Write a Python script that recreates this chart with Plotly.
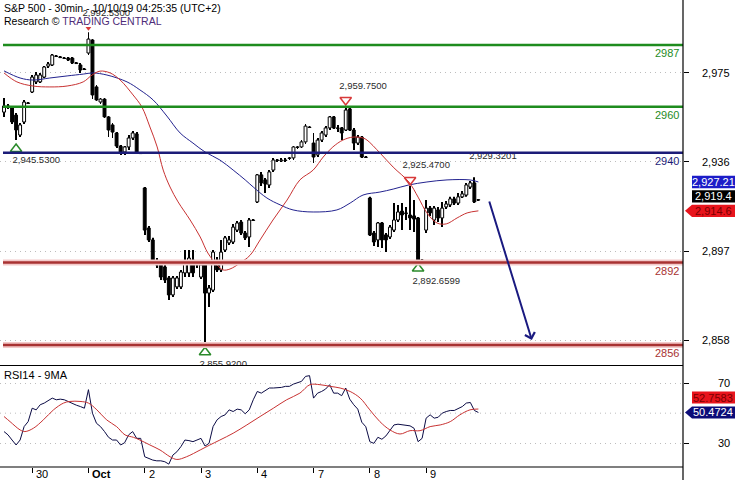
import plotly.graph_objects as go

# ---------------- data ----------------
day_labels = ["30", "Oct", "2", "3", "4", "7", "8", "9"]
day_start_bar = [7, 21, 35, 49, 63, 77, 91, 105]

open_ = [2957.7, 2960.4, 2959.5, 2956.4, 2947.7, 2953.4, 2961.7,
         2966.5, 2970.9, 2970.9, 2973.0, 2977.8, 2978.3, 2982.2, 2981.8, 2981.3, 2981.3, 2981.3, 2979.2, 2978.3, 2976.5,
         2983.5, 2989.2, 2968.7, 2962.1, 2963.4, 2955.6, 2952.1, 2948.6, 2942.9, 2940.3, 2942.5, 2946.4, 2948.2, 2939.9,
         2924.6, 2907.1, 2901.9, 2891.0, 2891.0, 2890.1, 2885.3, 2877.9, 2881.4, 2881.4, 2887.5, 2887.5, 2893.1, 2891.4,
         2885.7, 2891.0, 2878.7, 2880.0, 2893.1, 2888.8, 2897.5, 2900.6, 2901.0, 2906.2, 2909.7, 2904.9, 2903.2, 2910.6,
         2918.5, 2930.3, 2928.1, 2925.9, 2932.4, 2936.8, 2936.4, 2936.8, 2937.7, 2937.7, 2942.5, 2942.5, 2944.7, 2951.2,
         2944.2, 2939.0, 2945.5, 2947.7, 2950.8, 2955.6, 2950.8, 2950.8, 2949.9, 2959.1, 2949.9, 2944.2, 2946.8, 2938.1,
         2920.2, 2904.9, 2901.9, 2909.3, 2904.1, 2903.2, 2906.2, 2910.6, 2914.5, 2913.7, 2912.8, 2912.4, 2911.5, 2893.1,
         2906.2, 2915.8, 2910.6, 2915.0, 2911.5, 2916.3, 2917.2, 2919.8, 2918.0, 2920.7, 2921.5, 2925.0, 2926.8, 2919.3]
high = [2963.9, 2961.2, 2960.4, 2957.3, 2953.0, 2963.0, 2962.1,
        2973.9, 2975.2, 2974.8, 2977.8, 2979.6, 2983.1, 2982.6, 2982.2, 2981.8, 2981.8, 2981.8, 2979.6, 2979.2, 2977.0,
        2992.53, 2989.6, 2969.5, 2963.9, 2963.9, 2956.0, 2953.0, 2949.0, 2943.4, 2942.9, 2947.7, 2949.5, 2949.0, 2940.3,
        2925.0, 2908.0, 2902.8, 2894.0, 2891.4, 2891.0, 2886.2, 2886.2, 2886.2, 2888.8, 2897.5, 2897.5, 2897.5, 2892.3,
        2892.3, 2891.8, 2882.2, 2897.5, 2894.5, 2901.9, 2903.6, 2903.6, 2908.9, 2910.2, 2910.6, 2905.8, 2911.5, 2911.0,
        2930.7, 2931.6, 2928.9, 2932.4, 2937.7, 2937.2, 2937.7, 2937.7, 2938.1, 2942.9, 2942.9, 2945.5, 2952.5, 2951.6,
        2948.6, 2946.4, 2949.5, 2951.6, 2956.0, 2956.0, 2952.1, 2951.2, 2959.75, 2959.5, 2950.8, 2947.7, 2947.3, 2938.5,
        2920.7, 2905.8, 2909.7, 2909.7, 2904.9, 2908.4, 2918.0, 2917.2, 2918.0, 2916.3, 2925.47, 2919.3, 2911.9, 2893.6,
        2919.3, 2916.7, 2916.7, 2916.3, 2918.5, 2918.9, 2920.7, 2920.7, 2922.4, 2923.3, 2926.8, 2927.6, 2929.32, 2919.8]
low = [2955.6, 2959.1, 2952.5, 2945.53, 2946.8, 2952.5, 2961.2,
       2966.1, 2970.0, 2970.4, 2972.6, 2977.0, 2977.8, 2981.8, 2981.3, 2980.9, 2980.0, 2978.7, 2978.7, 2974.8, 2976.1,
       2982.6, 2963.4, 2962.6, 2961.2, 2955.1, 2946.8, 2946.4, 2942.0, 2939.0, 2939.0, 2941.2, 2945.5, 2939.4, 2939.4,
       2904.1, 2901.0, 2891.4, 2889.7, 2884.4, 2883.1, 2875.7, 2877.0, 2880.5, 2880.5, 2885.7, 2885.7, 2885.7, 2889.7,
       2884.9, 2855.92, 2872.6, 2879.2, 2887.9, 2887.9, 2896.6, 2899.7, 2900.1, 2905.4, 2904.1, 2901.9, 2898.8, 2910.2,
       2918.0, 2925.4, 2922.4, 2924.6, 2931.6, 2935.9, 2935.9, 2935.9, 2936.8, 2936.8, 2941.6, 2942.0, 2943.8, 2950.8,
       2935.5, 2938.1, 2944.7, 2946.8, 2949.9, 2950.3, 2949.0, 2945.5, 2949.5, 2949.5, 2941.2, 2943.4, 2937.7, 2937.7,
       2903.6, 2899.3, 2898.8, 2898.4, 2896.6, 2902.3, 2905.4, 2909.7, 2906.2, 2910.6, 2906.2, 2905.4, 2892.66, 2892.7,
       2904.9, 2912.4, 2908.4, 2909.7, 2907.5, 2915.4, 2916.3, 2917.2, 2917.2, 2920.2, 2920.7, 2924.1, 2918.0, 2918.9]
close = [2960.4, 2959.9, 2953.4, 2949.9, 2952.1, 2962.1, 2961.5,
         2973.0, 2973.9, 2973.9, 2977.4, 2978.7, 2982.6, 2982.0, 2981.5, 2981.1, 2980.5, 2979.2, 2978.9, 2976.1, 2976.3,
         2989.6, 2965.2, 2963.0, 2963.4, 2955.6, 2949.9, 2949.0, 2942.9, 2940.3, 2942.5, 2946.4, 2948.6, 2939.9, 2939.6,
         2906.2, 2901.9, 2892.3, 2892.3, 2885.7, 2884.4, 2877.9, 2885.3, 2885.3, 2887.9, 2892.3, 2894.0, 2887.5, 2891.0,
         2891.0, 2878.7, 2880.9, 2896.6, 2888.8, 2896.6, 2902.8, 2901.9, 2907.5, 2909.3, 2904.9, 2902.8, 2910.6, 2910.4,
         2930.3, 2926.8, 2926.3, 2931.6, 2936.8, 2936.6, 2936.8, 2936.6, 2937.5, 2942.5, 2942.3, 2944.7, 2951.6, 2951.0,
         2938.1, 2945.5, 2948.6, 2950.8, 2955.6, 2950.8, 2950.6, 2948.6, 2958.6, 2949.9, 2944.2, 2946.8, 2938.1, 2937.9,
         2904.1, 2901.0, 2909.3, 2901.9, 2901.9, 2907.5, 2910.6, 2914.1, 2912.8, 2913.4, 2911.5, 2911.0, 2893.1, 2892.9,
         2915.8, 2913.7, 2915.8, 2911.5, 2915.8, 2917.6, 2919.8, 2918.0, 2920.7, 2922.0, 2925.9, 2926.8, 2918.5, 2919.4]

# moving averages on price (sampled along the drawn curves)
ma_fast_x = [0, 3.2, 7.2, 11.4, 15.7, 19.7, 21.9, 23.9, 26.4, 28.9, 32.1, 34.3, 36.3, 38.1, 39.6, 41.3, 43.3,
             46.3, 48.8, 50.7, 53.0, 54.5, 56.2, 58.7, 61.2, 63.7, 66.9, 70.4, 73.6, 76.9, 79.4, 81.8, 84.3,
             86.8, 89.3, 90.3, 93.5, 96.8, 100.7, 103.0, 105.2, 107.7, 110.0, 112.7, 115.2, 118]
ma_fast_y = [2974.8, 2970.9, 2969.1, 2968.7, 2969.1, 2970.9, 2973.9, 2975.6, 2974.8, 2971.7, 2965.2, 2959.9,
             2951.2, 2942.5, 2932.4, 2925.0, 2918.5, 2910.6, 2903.2, 2896.2, 2891.0, 2888.8, 2889.2, 2891.8,
             2895.2, 2901.9, 2910.6, 2919.3, 2928.1, 2932.4, 2938.1, 2942.5, 2945.5, 2946.8, 2946.4, 2945.5,
             2939.9, 2933.7, 2927.2, 2920.6, 2913.7, 2909.3, 2908.9, 2911.5, 2913.7, 2914.6]
ma_slow_x = [0, 4, 7.2, 11.4, 15.7, 19.7, 22.1, 25.6, 30.6, 33.8, 37.1, 40.5, 43.8, 47.0, 50.0, 53.7, 57.0,
             60.0, 62.0, 65.4, 68.7, 71.9, 76.9, 82.8, 86.1, 89.3, 93.5, 96.8, 100.7, 105.2, 110.2, 115.9, 118]
ma_slow_y = [2975.7, 2972.6, 2971.7, 2972.6, 2973.5, 2974.3, 2974.8, 2973.9, 2970.9, 2967.4, 2963.0, 2956.0,
             2948.6, 2944.2, 2940.3, 2936.8, 2932.4, 2928.1, 2925.0, 2920.2, 2917.2, 2915.0, 2914.1, 2915.0,
             2918.0, 2921.5, 2922.8, 2924.1, 2925.9, 2927.2, 2928.1, 2928.1, 2927.21]

# RSI(14), one value per bar, and its 9-period MA (sampled)
rsi = [37.8, 35.6, 32.2, 28.9, 32.2, 41.1, 44.4,
       53.3, 52.2, 55.6, 56.7, 58.4, 60.0, 58.9, 59.3, 58.9, 57.6, 56.2, 55.3, 54.4, 53.3,
       65.6, 50.0, 43.3, 41.1, 37.8, 34.0, 32.2, 32.2, 28.9, 30.4, 35.6, 37.8, 33.3, 33.3,
       21.1, 20.0, 18.9, 18.4, 18.4, 17.8, 16.2, 22.2, 24.4, 27.8, 32.2, 31.8, 31.1, 32.2,
       33.3, 28.2, 30.0, 41.1, 45.6, 47.8, 48.9, 52.2, 51.1, 52.7, 52.2, 49.6, 52.2, 58.9,
       64.4, 63.3, 65.1, 66.7, 66.7, 66.7, 67.1, 67.8, 67.8, 69.3, 70.0, 71.1, 74.4, 74.9,
       60.0, 63.3, 64.4, 66.0, 68.9, 63.3, 63.3, 61.6, 66.7, 59.3, 55.6, 52.7, 44.0, 41.0,
       31.1, 30.0, 34.0, 32.7, 34.9, 38.9, 42.2, 42.7, 42.2, 42.0, 41.6, 40.0, 31.1, 33.3,
       46.7, 48.9, 46.7, 47.3, 50.0, 51.1, 51.8, 51.8, 53.3, 54.4, 56.7, 57.1, 51.8, 50.4724]
rsi_ma_x = [0, 1.5, 4, 5.2, 7.3, 9.8, 12.3, 14.8, 16.4, 18.9, 21, 23.1, 25.5, 28, 30.1, 32.2, 33.8, 36.3,
            38.8, 41.3, 43, 45.4, 48.8, 51.2, 53.7, 57, 60.4, 63.7, 67, 70.3, 73.6, 76.1, 78.6, 81.1, 83.6,
            86.1, 88.6, 91, 93.5, 96, 98.5, 101, 103.5, 106, 108.5, 111, 113.4, 115.9, 118]
rsi_ma_y = [47.8, 44.4, 38.9, 37.8, 40.0, 45.6, 52.2, 56.7, 57.8, 57.8, 56.7, 52.2, 45.6, 41.1, 35.6, 34.0,
            32.2, 28.9, 25.6, 21.1, 19.3, 21.1, 25.6, 28.9, 32.2, 36.7, 42.2, 47.8, 53.3, 58.9, 63.3, 68.9,
            68.9, 67.8, 66.7, 64.4, 60.0, 52.2, 44.4, 38.9, 36.2, 38.4, 38.4, 41.1, 42.2, 44.4, 48.9, 52.2, 52.7583]

# support / resistance levels
green_levels = [2987, 2960]
navy_levels = [2940]
red_levels = [2892, 2856]

price_ticks = [2858, 2897, 2936, 2975]
price_tick_text = ["2,858", "2,897", "2,936", "2,975"]
rsi_ticks = [30, 70]

# pivot markers and their labels
pivot_top_x = [85, 101]
pivot_top_y = [2963.0, 2928.1]
pivot_spike_x = [21]
pivot_spike_y = [2994.3]
pivot_bottom_x = [3, 50, 103]
pivot_bottom_y = [2941.6, 2852.9, 2889.4]
pivot_text = ["2,992.5300", "2,959.7500", "2,925.4700", "2,929.3201", "2,945.5300", "2,892.6599", "2,855.9200"]
pivot_text_x = [19.5, 83.4, 99.1, 115.7, 2.1, 101.6, 48.6]
pivot_text_y = [3000.6, 2968.7, 2934.2, 2938.1, 2936.4, 2883.9, 2847.5]

# forecast arrow (tail -> head)
arrow_tail = (120.6, 2919.3)
arrow_head = (131.3, 2858.2)

last_close = 2919.4
last_ma_fast = 2914.6
last_ma_slow = 2927.21
last_rsi = 50.4724
last_rsi_ma = 52.7583

# ---------------- layout geometry ----------------
W, H = 735, 480
MR, MB = 52, 13
PW, PH = W - MR, H - MB


def pxx(p):
    return p / PW


def pxy(p):
    return (PH - p) / PH


FONT = "Liberation Sans, Arial, sans-serif"
X_RANGE = [-1, 168.9]

fig = go.Figure()

n = len(close)
idx = list(range(n))

# wicks
fig.add_trace(go.Bar(
    x=idx, y=[h - l for h, l in zip(high, low)], base=low, width=0.22,
    marker=dict(color="black", line=dict(width=0)), xaxis="x2", yaxis="y", hoverinfo="skip"))
# bodies
body_base = [min(o, c) for o, c in zip(open_, close)]
body_h = [max(abs(c - o), 0.15) for o, c in zip(open_, close)]
body_col = ["white" if c >= o else "black" for o, c in zip(open_, close)]
fig.add_trace(go.Bar(
    x=idx, y=body_h, base=body_base, width=0.72,
    marker=dict(color=body_col, line=dict(color="black", width=1)), xaxis="x2", yaxis="y"))

# moving averages
fig.add_trace(go.Scatter(x=ma_slow_x, y=ma_slow_y, mode="lines", line=dict(color="#23238f", width=1, shape="spline"),
                         xaxis="x2", yaxis="y"))
fig.add_trace(go.Scatter(x=ma_fast_x, y=ma_fast_y, mode="lines", line=dict(color="#c83232", width=1, shape="spline"),
                         xaxis="x2", yaxis="y"))

# pivot markers
fig.add_trace(go.Scatter(x=pivot_top_x, y=pivot_top_y, mode="markers",
                         marker=dict(symbol="triangle-down-open", size=10, color="#d83a3a", line=dict(width=1.5)),
                         xaxis="x2", yaxis="y"))
fig.add_trace(go.Scatter(x=pivot_spike_x, y=pivot_spike_y, mode="markers",
                         marker=dict(symbol="triangle-down", size=5, color="#d83a3a"), xaxis="x2", yaxis="y"))
fig.add_trace(go.Scatter(x=pivot_bottom_x, y=pivot_bottom_y, mode="markers",
                         marker=dict(symbol="triangle-up-open", size=10, color="#2a8a2a", line=dict(width=1.5)),
                         xaxis="x2", yaxis="y"))
fig.add_trace(go.Scatter(x=pivot_text_x, y=pivot_text_y, mode="text", text=pivot_text, textposition="middle right",
                         textfont=dict(family=FONT, size=9.5, color="#2b2b2b"), xaxis="x2", yaxis="y"))

# RSI panel
fig.add_trace(go.Scatter(x=idx, y=rsi, mode="lines", line=dict(color="#0b0b45", width=1), xaxis="x", yaxis="y2"))
fig.add_trace(go.Scatter(x=rsi_ma_x, y=rsi_ma_y, mode="lines", line=dict(color="#c83232", width=1, shape="spline"),
                         xaxis="x", yaxis="y2"))

shapes = []
# level lines
for lv in green_levels:
    shapes.append(dict(type="line", xref="paper", yref="y", x0=pxx(3), x1=1, y0=lv, y1=lv,
                       line=dict(color="#1e8c1e", width=2.5)))
for lv in navy_levels:
    shapes.append(dict(type="line", xref="paper", yref="y", x0=pxx(3), x1=1, y0=lv, y1=lv,
                       line=dict(color="#1c1c78", width=2.5)))
for lv in red_levels:
    shapes.append(dict(type="line", xref="paper", yref="y", x0=pxx(3), x1=1, y0=lv, y1=lv,
                       line=dict(color="#f3caca", width=6)))
    shapes.append(dict(type="line", xref="paper", yref="y", x0=pxx(3), x1=1, y0=lv, y1=lv,
                       line=dict(color="#a83232", width=2.5)))
# frame lines
shapes.append(dict(type="line", xref="paper", yref="paper", x0=0, x1=1, y0=pxy(365.5), y1=pxy(365.5),
                   line=dict(color="black", width=1.2)))
shapes.append(dict(type="line", xref="paper", yref="paper", x0=0, x1=1, y0=pxy(467), y1=pxy(467),
                   line=dict(color="black", width=1.2)))
shapes.append(dict(type="line", xref="paper", yref="paper", x0=1, x1=1, y0=pxy(480), y1=1,
                   line=dict(color="black", width=1.2)))
shapes.append(dict(type="line", xref="paper", yref="y2", x0=0, x1=1, y0=50, y1=50,
                   line=dict(color="#bdbdbd", width=1, dash="1px,4px"), layer="below"))

# value boxes on the right axis
bx0, bx1, tip = pxx(692), pxx(735), pxx(685)
half_p = 6.2 / 2.2906
half_r = 6.0 / 1.5075


def rect(yref, yc, half, color):
    return dict(type="rect", xref="paper", yref=yref, x0=bx0, x1=bx1, y0=yc - half, y1=yc + half,
                fillcolor=color, line=dict(width=0), layer="above")


def arrow_box(yref, yc, half, color):
    path = (f"M {tip},{yc} L {bx0},{yc + half} L {bx1},{yc + half} "
            f"L {bx1},{yc - half} L {bx0},{yc - half} Z")
    return dict(type="path", xref="paper", yref=yref, path=path, fillcolor=color, line=dict(width=0), layer="above")


slow_box_y = last_ma_slow
close_box_y = last_close + 1.5
fast_box_y = last_ma_fast
rsi_ma_box_y = last_rsi_ma + 7.6
rsi_box_y = last_rsi
shapes.append(rect("y", slow_box_y, half_p, "#1c1cc8"))
shapes.append(rect("y", close_box_y, half_p, "#000000"))
shapes.append(arrow_box("y", fast_box_y, half_p, "#e8141c"))
shapes.append(rect("y2", rsi_ma_box_y, half_r, "#e8141c"))
shapes.append(arrow_box("y2", rsi_box_y, half_r, "#0c0c78"))

ann = []
box_cx = pxx(713.5)
for yref, yc, txt, col in [("y", slow_box_y, f"{last_ma_slow:,.2f}", "white"),
                           ("y", close_box_y, f"{last_close:,.1f}", "white"),
                           ("y", fast_box_y, f"{last_ma_fast:,.1f}", "#7a0000"),
                           ("y2", rsi_ma_box_y, f"{last_rsi_ma:.4f}", "#7a0000"),
                           ("y2", rsi_box_y, f"{last_rsi:.4f}", "white")]:
    ann.append(dict(xref="paper", yref=yref, x=box_cx, y=yc, text=txt, showarrow=False, xanchor="center",
                    yanchor="middle", font=dict(family=FONT, size=11, color=col)))

# axis tick labels
for v, t in zip(price_ticks, price_tick_text):
    ann.append(dict(xref="paper", yref="y", x=pxx(732), y=v, text=t, showarrow=False, xanchor="right",
                    yanchor="middle", font=dict(family=FONT, size=11, color="black")))
for v in rsi_ticks:
    ann.append(dict(xref="paper", yref="y2", x=pxx(732), y=v, text=str(v), showarrow=False, xanchor="right",
                    yanchor="middle", font=dict(family=FONT, size=11, color="black")))
for b, t in zip(day_start_bar, day_labels):
    ann.append(dict(xref="x", yref="paper", x=b, y=pxy(474), xshift=2, text=(f"<b>{t}</b>" if t == "Oct" else t),
                    showarrow=False, xanchor="left", yanchor="middle",
                    font=dict(family=FONT, size=11, color="black")))

# level labels
for lv, col in [(green_levels[0], "#1e8c1e"), (green_levels[1], "#1e8c1e"), (navy_levels[0], "#1c1c78"),
                (red_levels[0], "#a83232"), (red_levels[1], "#a83232")]:
    ann.append(dict(xref="paper", yref="y", x=pxx(681), y=lv, yshift=-8, text=str(lv), showarrow=False,
                    xanchor="right", yanchor="middle", font=dict(family=FONT, size=11, color=col)))

# titles
ann.append(dict(xref="paper", yref="paper", x=pxx(2), y=pxy(8), text="S&amp;P 500 - 30min - 10/10/19 04:25:35 (UTC+2)",
                showarrow=False, xanchor="left", yanchor="middle", font=dict(family=FONT, size=10.5, color="black")))
ann.append(dict(xref="paper", yref="paper", x=pxx(2), y=pxy(20.5),
                text="Research © <span style='color:#4e2c78'>TRADING CENTRAL</span>",
                showarrow=False, xanchor="left", yanchor="middle", font=dict(family=FONT, size=10.5, color="black")))
ann.append(dict(xref="paper", yref="paper", x=pxx(2), y=pxy(375), text="RSI14 - 9MA",
                showarrow=False, xanchor="left", yanchor="middle", font=dict(family=FONT, size=11, color="black")))

# forecast arrow
ann.append(dict(xref="x2", yref="y", axref="x2", ayref="y", x=arrow_head[0], y=arrow_head[1],
                ax=arrow_tail[0], ay=arrow_tail[1], text="", showarrow=True, arrowhead=4, arrowsize=1,
                arrowwidth=2, arrowcolor="#1a1a80"))

fig.update_layout(
    width=W, height=H, margin=dict(l=0, r=MR, t=0, b=MB),
    paper_bgcolor="white", plot_bgcolor="white", showlegend=False, barmode="overlay",
    font=dict(family=FONT, size=11, color="black"),
    xaxis=dict(domain=[0, 1], range=X_RANGE, anchor="y2", tickvals=day_start_bar, ticks="outside", ticklen=5,
               tickcolor="black", tickwidth=1, showticklabels=False, showgrid=False, zeroline=False, showline=False),
    xaxis2=dict(domain=[0, 1], range=X_RANGE, anchor="y", matches="x", showticklabels=False, ticks="",
                showgrid=False, zeroline=False, showline=False),
    yaxis=dict(domain=[pxy(365), 1], range=[2847.3, 3006.65], side="right", anchor="x2", tickvals=price_ticks,
               ticks="outside", ticklen=5, tickcolor="black", showticklabels=False, showgrid=True,
               gridcolor="#bdbdbd", griddash="1px,4px", gridwidth=1, zeroline=False, showline=False),
    yaxis2=dict(domain=[0, pxy(366)], range=[14.3, 81.3], side="right", anchor="x", tickvals=rsi_ticks,
                ticks="outside", ticklen=5, tickcolor="black", showticklabels=False, showgrid=True,
                gridcolor="#bdbdbd", griddash="1px,4px", gridwidth=1, zeroline=False, showline=False),
    shapes=shapes, annotations=ann,
)

fig.write_html("out.html", config={"displayModeBar": False},
               post_script="document.body.style.margin='0px';document.body.style.overflow='hidden';")
